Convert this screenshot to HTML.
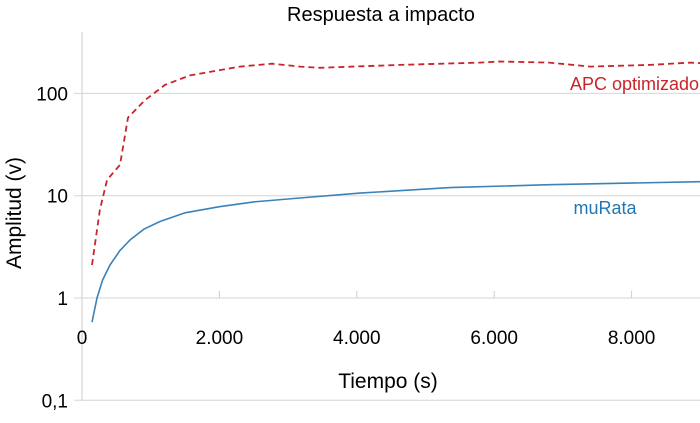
<!DOCTYPE html>
<html><head><meta charset="utf-8"><style>
body{margin:0;background:#fff}
svg text{font-family:"Liberation Sans",sans-serif}
</style></head><body>
<svg id="chart" width="700" height="418">
<text x="381" y="21" font-size="20" text-anchor="middle">Respuesta a impacto</text>
<g id="grid"></g><g id="series"></g>
<text x="388" y="388" font-size="21" text-anchor="middle">Tiempo (s)</text>
<text transform="translate(21,213) rotate(-90)" font-size="21" text-anchor="middle">Amplitud (v)</text>
<text x="699" y="90" font-size="18" fill="#c8252b" text-anchor="end">APC optimizado</text>
<text x="605" y="214" font-size="18" fill="#1f77b4" text-anchor="middle">muRata</text>
</svg>
<script>
const xTicks=[0,2000,4000,6000,8000];
const xTickLabels=["0","2.000","4.000","6.000","8.000"];
const yTicks=[0.1,1,10,100];
const yTickLabels=["0,1","1","10","100"];
const apcT=[145,260,365,553,670,917,1208,1572,2300,2765,3170,3465,4630,5790,6080,6800,7400,8270,8850,9000];
const apcV=[2.1,7.3,14.3,20,58,86,121,150,183,195,183,178,190,200,205,200,183,190,200,198];
const murT=[145,218,300,408,550,700,900,1135,1500,2000,2500,3170,4045,5355,6800,9000];
const murV=[0.58,1.0,1.5,2.1,2.9,3.7,4.7,5.6,6.8,7.8,8.7,9.5,10.6,12,12.8,13.7];
const NS="http://www.w3.org/2000/svg";
function X(t){return 82+t*0.0687;}
function Y(v){return 298-Math.log10(v)*102.3;}
const grid=document.getElementById('grid'),ser=document.getElementById('series');
function mk(tag,a,p){const e=document.createElementNS(NS,tag);for(const k in a)e.setAttribute(k,a[k]);p.appendChild(e);return e;}
const ax=mk('line',{x1:82,y1:32,x2:82,y2:401,stroke:'#ccc'},grid);


yTicks.forEach((v,i)=>{
 const l=mk('line',{x1:74,x2:700,y1:Y(v),y2:Y(v),stroke:'#d6d6d6'},grid);
 
 
 const t=mk('text',{x:68,y:Y(v)+7,'font-size':19,'text-anchor':'end'},grid);t.textContent=yTickLabels[i];
 
 
});
xTicks.forEach((v,i)=>{
 if(v>0){const l=mk('line',{x1:X(v),x2:X(v),y1:Y(1),y2:Y(1)-7,stroke:'#ccc'},grid);
 
 }
 const t=mk('text',{x:X(v),y:344,'font-size':19,'text-anchor':'middle'},grid);t.textContent=xTickLabels[i];
 
 
});
function pts(T,V){return T.map((t,i)=>X(t).toFixed(1)+','+Y(V[i]).toFixed(1)).join(' ');}
const a=mk('polyline',{points:pts(apcT,apcV),fill:'none',stroke:'#c8252b','stroke-width':1.8,'stroke-dasharray':'6,4','stroke-linejoin':'round'},ser);


const m=mk('polyline',{points:pts(murT,murV),fill:'none',stroke:'#3b82b8','stroke-width':1.6,'stroke-linejoin':'round'},ser);


</script>
</body></html>
